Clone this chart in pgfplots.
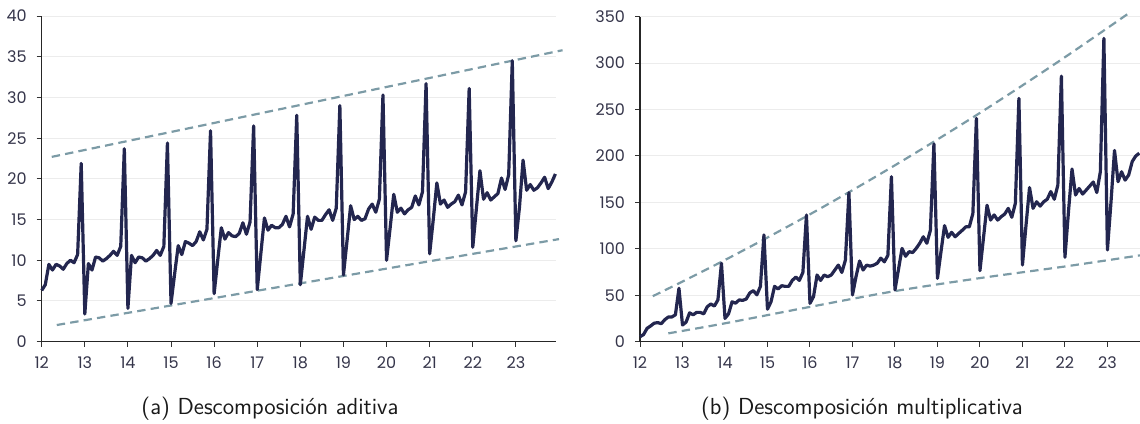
\documentclass[border=0pt]{standalone}
\usepackage{fontspec}
\usepackage{pgfplots}
\pgfplotsset{compat=1.18}
\newfontfamily\tickfont{Poppins}
\definecolor{navy}{HTML}{23264F}
\definecolor{dashc}{HTML}{7C9BA6}
\definecolor{gridc}{HTML}{ECECEC}
\definecolor{tickc}{HTML}{35354A}
\pgfplotsset{
  myaxis/.style={
    scale only axis,
    axis lines*=left,
    axis line style={line width=0.6pt, color=black!85},
    tick align=outside,
    major tick length=2.5pt,
    tick style={line width=0.5pt, color=black!80},
    ymajorgrids,
    grid style={line width=0.5pt, color=gridc},
    tick label style={font=\tickfont\fontsize{8}{9}\selectfont, color=tickc},
    xticklabel style={yshift=-1.5pt},
    yticklabel style={xshift=-1.5pt},
    /pgf/number format/assume math mode=true,
    xtick={0,12,24,36,48,60,72,84,96,108,120,132},
    xticklabels={12,13,14,15,16,17,18,19,20,21,22,23},
    xmin=0, ymin=0,
    clip=false,
  },
  serie/.style={color=navy, line width=1.6pt, line join=round},
  trend/.style={color=dashc, line width=1.1pt, dash pattern=on 4.2pt off 2.6pt},
}
\begin{document}
\begin{tikzpicture}
\path[use as bounding box] (0,0) rectangle (570pt,-211.5pt);
% ---------- (a) additive ----------
\begin{axis}[myaxis, at={(20.85pt,-170.85pt)}, anchor=south west,
  width=257.2pt, height=162.85pt, xmax=143.2, ymax=40, ytick={0,5,...,40}]
\addplot[trend] coordinates {(2.8,22.7) (145,35.8)};
\addplot[trend] coordinates {(4.2,2.05) (144,12.6)};
\addplot[serie] coordinates {
(0,6.3)(1,7.0)(2,9.5)(3,8.8)(4,9.5)(5,9.3)(6,8.9)(7,9.6)(8,10.0)(9,9.7)(10,10.7)(11,21.9)
(12,3.4)(13,9.6)(14,8.8)(15,10.4)(16,10.3)(17,9.9)(18,10.2)(19,10.6)(20,11.1)(21,10.6)(22,11.7)(23,23.7)
(24,4.1)(25,10.6)(26,9.7)(27,10.4)(28,10.3)(29,9.9)(30,10.2)(31,10.6)(32,11.2)(33,10.6)(34,11.7)(35,24.4)
(36,4.7)(37,8.3)(38,11.8)(39,10.7)(40,12.3)(41,12.1)(42,11.8)(43,12.3)(44,13.5)(45,12.5)(46,13.8)(47,25.9)
(48,5.9)(49,10.0)(50,14.0)(51,12.6)(52,13.4)(53,13.0)(54,12.9)(55,13.3)(56,14.6)(57,13.2)(58,14.7)(59,26.5)
(60,6.4)(61,10.8)(62,15.2)(63,13.7)(64,14.3)(65,14.0)(66,14.0)(67,14.4)(68,15.4)(69,14.1)(70,15.7)(71,27.8)
(72,7.0)(73,11.2)(74,15.4)(75,13.8)(76,15.3)(77,14.9)(78,14.9)(79,15.6)(80,16.2)(81,14.9)(82,16.4)(83,29.0)
(84,8.2)(85,12.4)(86,16.7)(87,15.0)(88,15.4)(89,14.9)(90,15.1)(91,16.3)(92,16.9)(93,15.9)(94,17.5)(95,30.3)
(96,10.0)(97,14.0)(98,18.1)(99,15.9)(100,16.4)(101,15.7)(102,16.2)(103,16.5)(104,17.9)(105,16.8)(106,18.4)(107,31.7)
(108,10.8)(109,15.0)(110,19.5)(111,16.9)(112,17.4)(113,16.5)(114,16.9)(115,17.2)(116,18.0)(117,16.8)(118,18.4)(119,31.1)
(120,11.6)(121,16.3)(122,21.0)(123,17.5)(124,18.3)(125,17.4)(126,17.8)(127,18.2)(128,20.1)(129,18.7)(130,20.5)(131,34.5)
(132,12.4)(133,16.5)(134,22.3)(135,18.6)(136,19.3)(137,18.6)(138,18.9)(139,19.5)(140,20.2)(141,18.8)(142,19.6)(143,20.6)
};
\end{axis}
% ---------- (b) multiplicative ----------
\begin{axis}[myaxis, at={(320pt,-170.85pt)}, anchor=south west,
  width=250pt, height=162.5pt, xmax=141.2, ymax=350, ytick={0,50,...,350}]
\addplot[trend, smooth] coordinates {(3.6,49.0)(12,64.8)(24,88.0)(36,112.2)(48,137.2)(60,163.2)(72,190.0)(84,217.8)(96,246.4)(108,276.0)(120,306.4)(132,337.8)(138.5,355.0)};
\addplot[trend, smooth] coordinates {(8,9.0)(24,19.8)(48,37.5)(72,54.5)(96,68.5)(120,81.0)(141.2,93.0)};
\addplot[serie] coordinates {
(0,5.4)(1,7.7)(2,14.4)(3,17.0)(4,19.9)(5,20.6)(6,19.4)(7,23.7)(8,26.6)(9,26.6)(10,29.0)(11,57.5)
(12,18.0)(13,21.0)(14,31.0)(15,29.0)(16,31.6)(17,31.6)(18,30.0)(19,37.7)(20,40.6)(21,38.4)(22,45.0)(23,84.4)
(24,25.1)(25,30.0)(26,43.0)(27,41.5)(28,45.0)(29,44.5)(30,46.0)(31,52.5)(32,55.0)(33,50.5)(34,59.5)(35,115.0)
(36,35.0)(37,43.0)(38,59.6)(39,56.8)(40,60.3)(41,59.6)(42,59.6)(43,66.0)(44,69.6)(45,66.0)(46,74.6)(47,136.4)
(48,41.3)(49,48.5)(50,71.8)(51,66.0)(52,71.8)(53,70.0)(54,71.8)(55,77.1)(56,82.5)(57,74.6)(58,87.8)(59,160.5)
(60,50.3)(61,70.0)(62,86.9)(63,77.2)(64,82.5)(65,81.4)(66,82.5)(67,84.5)(68,90.0)(69,86.0)(70,93.0)(71,177.7)
(72,55.7)(73,78.0)(74,100.5)(75,92.0)(76,97.0)(77,96.0)(78,100.5)(79,106.0)(80,113.0)(81,106.0)(82,120.0)(83,212.9)
(84,68.2)(85,97.0)(86,125.0)(87,112.4)(88,117.8)(89,113.0)(90,116.6)(91,120.0)(92,123.7)(93,123.7)(94,138.0)(95,240.5)
(96,76.5)(97,112.0)(98,147.0)(99,131.0)(100,136.5)(101,131.0)(102,134.6)(103,137.5)(104,143.6)(105,134.0)(106,149.0)(107,262.0)
(108,82.6)(109,125.0)(110,166.0)(111,143.6)(112,150.7)(113,146.0)(114,150.7)(115,153.4)(116,161.7)(117,153.4)(118,168.8)(119,286.0)
(120,90.9)(121,140.0)(122,186.0)(123,158.0)(124,165.0)(125,159.0)(126,163.3)(127,167.6)(128,172.0)(129,160.6)(130,183.0)(131,326.7)
(132,98.8)(133,150.0)(134,206.0)(135,172.3)(136,183.0)(137,174.0)(138,179.5)(139,194.0)(140,200.0)(141,203.0)
};
\end{axis}
\node[font=\sffamily\fontsize{11.6}{14}\selectfont, text=black!90] at (135pt,-204.5pt) {(a) Descomposición aditiva};
\node[font=\sffamily\fontsize{11.6}{14}\selectfont, text=black!90] at (431pt,-204.5pt) {(b) Descomposición multiplicativa};
\end{tikzpicture}
\end{document}
